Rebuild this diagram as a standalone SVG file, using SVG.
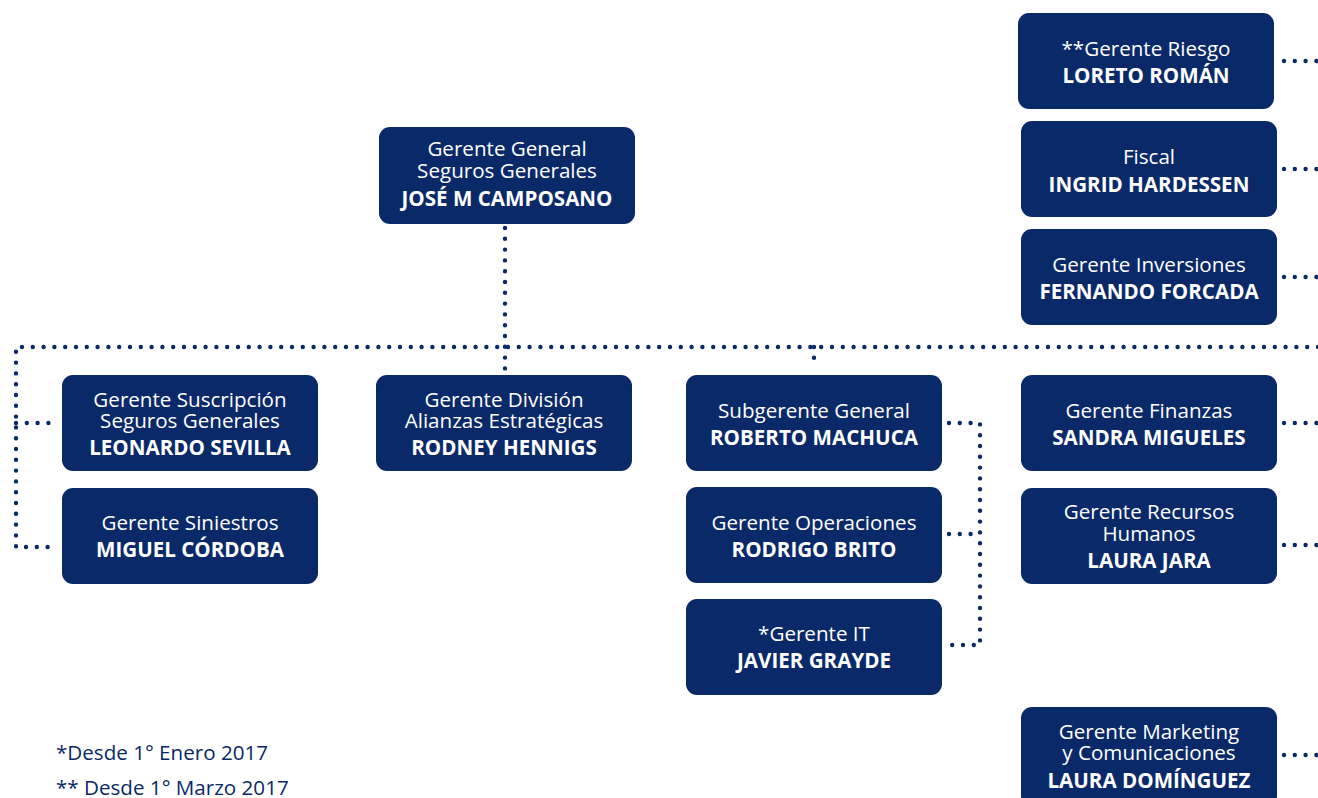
<svg xmlns="http://www.w3.org/2000/svg" width="1318" height="798" viewBox="0 0 1318 798">
<style>
.box{fill:#0a2969;}
.t{font-family:"Open Sans","Noto Sans","Liberation Sans",sans-serif;font-size:20.6px;fill:#ffffff;text-anchor:middle;}
.b{font-weight:bold;}
.dot{fill:none;stroke:#0a2969;stroke-width:4.4;stroke-linecap:round;stroke-dasharray:0 10.8;}
.leg{font-family:"Open Sans","Noto Sans","Liberation Sans",sans-serif;font-size:20.6px;fill:#0a2969;}
</style>
<rect width="1318" height="798" fill="#ffffff"/>
<g id="connectors">
<path class="dot" d="M505 228 V369"/>
<path class="dot" d="M1318 347 H16 V547 H58"/>
<path class="dot" d="M16 423 H58"/>
<path class="dot" d="M814 347 V368"/>
<path class="dot" d="M949 423 H980 V645 H949"/>
<path class="dot" d="M949 534 H980"/>
<path class="dot" d="M1284 61 H1318"/>
<path class="dot" d="M1284 169 H1318"/>
<path class="dot" d="M1284 277 H1318"/>
<path class="dot" d="M1284 423 H1318"/>
<path class="dot" d="M1284 545 H1318"/>
<path class="dot" d="M1284 755 H1318"/>
</g>
<g id="gerente-general">
<rect class="box" x="379" y="127" width="256" height="97" rx="11"/>
<text class="t" x="507" y="156">Gerente General</text>
<text class="t" x="507" y="178">Seguros Generales</text>
<text class="t b" x="507" y="206">JOSÉ M CAMPOSANO</text>
</g>
<g id="riesgo">
<rect class="box" x="1018" y="13" width="256" height="96" rx="11"/>
<text class="t" x="1146" y="56">**Gerente Riesgo</text>
<text class="t b" x="1146" y="83">LORETO ROMÁN</text>
</g>
<g id="fiscal">
<rect class="box" x="1021" y="121" width="256" height="96" rx="11"/>
<text class="t" x="1149" y="164">Fiscal</text>
<text class="t b" x="1149" y="192">INGRID HARDESSEN</text>
</g>
<g id="inversiones">
<rect class="box" x="1021" y="229" width="256" height="96" rx="11"/>
<text class="t" x="1149" y="272">Gerente Inversiones</text>
<text class="t b" x="1149" y="299">FERNANDO FORCADA</text>
</g>
<g id="suscripcion">
<rect class="box" x="62" y="375" width="256" height="96" rx="11"/>
<text class="t" x="190" y="407">Gerente Suscripción</text>
<text class="t" x="190" y="428">Seguros Generales</text>
<text class="t b" x="190" y="455">LEONARDO SEVILLA</text>
</g>
<g id="siniestros">
<rect class="box" x="62" y="488" width="256" height="96" rx="11"/>
<text class="t" x="190" y="530">Gerente Siniestros</text>
<text class="t b" x="190" y="557">MIGUEL CÓRDOBA</text>
</g>
<g id="alianzas">
<rect class="box" x="376" y="375" width="256" height="96" rx="11"/>
<text class="t" x="504" y="407">Gerente División</text>
<text class="t" x="504" y="428">Alianzas Estratégicas</text>
<text class="t b" x="504" y="455">RODNEY HENNIGS</text>
</g>
<g id="subgerente">
<rect class="box" x="686" y="375" width="256" height="96" rx="11"/>
<text class="t" x="814" y="418">Subgerente General</text>
<text class="t b" x="814" y="445">ROBERTO MACHUCA</text>
</g>
<g id="operaciones">
<rect class="box" x="686" y="487" width="256" height="96" rx="11"/>
<text class="t" x="814" y="530">Gerente Operaciones</text>
<text class="t b" x="814" y="557">RODRIGO BRITO</text>
</g>
<g id="it">
<rect class="box" x="686" y="599" width="256" height="96" rx="11"/>
<text class="t" x="814" y="641">*Gerente IT</text>
<text class="t b" x="814" y="668">JAVIER GRAYDE</text>
</g>
<g id="finanzas">
<rect class="box" x="1021" y="375" width="256" height="96" rx="11"/>
<text class="t" x="1149" y="418">Gerente Finanzas</text>
<text class="t b" x="1149" y="445">SANDRA MIGUELES</text>
</g>
<g id="rrhh">
<rect class="box" x="1021" y="488" width="256" height="96" rx="11"/>
<text class="t" x="1149" y="519">Gerente Recursos</text>
<text class="t" x="1149" y="541">Humanos</text>
<text class="t b" x="1149" y="568">LAURA JARA</text>
</g>
<g id="marketing">
<rect class="box" x="1021" y="707" width="256" height="100" rx="11"/>
<text class="t" x="1149" y="739">Gerente Marketing</text>
<text class="t" x="1149" y="760">y Comunicaciones</text>
<text class="t b" x="1149" y="788">LAURA DOMÍNGUEZ</text>
</g>
<g id="legend">
<text class="leg" x="56" y="760">*Desde 1° Enero 2017</text>
<text class="leg" x="56" y="795">** Desde 1° Marzo 2017</text>
</g>
</svg>
